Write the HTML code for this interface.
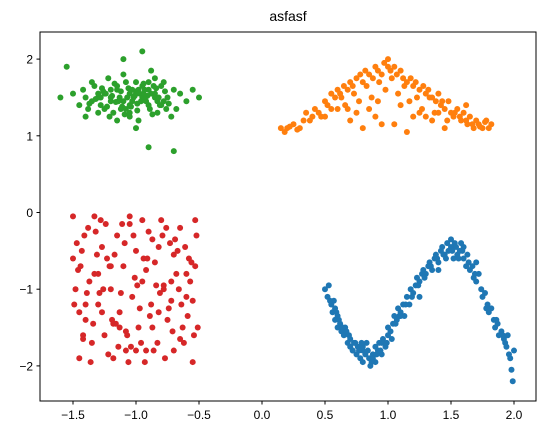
<!DOCTYPE html>
<html><head><meta charset="utf-8"><style>
body{margin:0;background:#fff}
svg{display:block;font-family:"Liberation Sans","DejaVu Sans",sans-serif}
</style></head><body>
<svg id="chart" width="546" height="435" viewBox="0 0 546 435" xmlns="http://www.w3.org/2000/svg">
<text x="288" y="21" font-size="14" text-anchor="middle" fill="#000">asfasf</text>
<g id="marks"></g>
<rect x="40" y="32" width="496" height="369" fill="none" stroke="#000" stroke-width="1"/>
<g id="axes"></g>
</svg>
<script>
const xTicks=[-1.5,-1.0,-0.5,0.0,0.5,1.0,1.5,2.0];
const xTickLabels=["−1.5","−1.0","−0.5","0.0","0.5","1.0","1.5","2.0"];
const yTicks=[-2,-1,0,1,2];
const yTickLabels=["−2","−1","0","1","2"];
const seriesNames=["moon-lower","moon-upper","blob","uniform"];
const seriesColors=["#1f77b4","#ff7f0e","#2ca02c","#d62728"];
const blueX=[0.5,0.52,0.53,0.55,0.56,0.57,0.58,0.6,0.6,0.62,0.63,0.65,0.66,0.68,0.7,0.7,0.72,0.74,0.75,0.76,0.78,0.8,0.8,0.82,0.83,0.85,0.86,0.88,0.9,0.9,0.92,0.93,0.95,0.96,0.98,1.0,1.0,1.02,1.04,1.05,1.07,1.08,1.1,1.12,1.13,1.15,1.17,1.18,1.2,1.22,1.23,1.25,1.27,1.28,1.3,1.32,1.33,1.35,1.37,1.38,1.4,1.42,1.43,1.45,1.47,1.48,1.5,1.52,1.53,1.55,1.57,1.58,1.6,1.62,1.63,1.65,1.67,1.68,1.7,1.72,1.74,1.75,1.77,1.78,1.8,1.82,1.84,1.85,1.87,1.88,1.9,1.92,1.93,1.95,1.96,1.97,1.98,2.0,1.99,1.94,0.58,0.64,0.72,0.8,0.88,0.95,1.03,1.1,1.25,1.4,1.5,1.6,1.7,
0.54,0.59,0.61,0.67,0.69,0.73,0.77,0.79,0.84,0.87,0.91,0.94,0.97,0.99,1.06,1.09,1.14,1.19,1.24,1.29,1.34,1.39,1.44,1.46,1.51,1.54,1.56,1.59,1.64,1.69,1.79,1.86,1.91];
const blueY=[-1.0,-1.1,-0.95,-1.2,-1.3,-1.15,-1.4,-1.35,-1.5,-1.45,-1.55,-1.6,-1.5,-1.7,-1.65,-1.75,-1.8,-1.7,-1.85,-1.75,-1.9,-1.8,-1.95,-1.85,-1.7,-1.9,-2.0,-1.85,-1.75,-1.95,-1.8,-1.7,-1.85,-1.65,-1.75,-1.6,-1.5,-1.55,-1.45,-1.35,-1.4,-1.25,-1.3,-1.2,-1.35,-1.1,-1.2,-1.0,-1.05,-0.95,-0.85,-0.9,-0.8,-0.75,-0.8,-0.7,-0.65,-0.75,-0.6,-0.55,-0.65,-0.5,-0.45,-0.55,-0.4,-0.5,-0.45,-0.6,-0.4,-0.55,-0.5,-0.4,-0.6,-0.7,-0.55,-0.75,-0.7,-0.85,-0.9,-0.8,-1.0,-1.1,-1.05,-1.25,-1.3,-1.25,-1.4,-1.5,-1.45,-1.6,-1.55,-1.65,-1.7,-1.6,-1.85,-1.9,-2.05,-1.8,-2.2,-1.75,-1.25,-1.5,-1.8,-1.75,-1.9,-1.7,-1.65,-1.35,-1.1,-0.75,-0.35,-0.45,-0.65,
-1.15,-1.3,-1.4,-1.55,-1.6,-1.7,-1.8,-1.7,-1.8,-1.95,-1.85,-1.8,-1.7,-1.7,-1.45,-1.35,-1.2,-1.1,-0.95,-0.85,-0.7,-0.6,-0.55,-0.6,-0.5,-0.45,-0.6,-0.5,-0.65,-0.8,-1.2,-1.4,-1.6];
const orangeX=[0.15,0.18,0.2,0.25,0.3,0.33,0.35,0.4,0.42,0.45,0.5,0.52,0.55,0.58,0.6,0.62,0.65,0.68,0.7,0.72,0.75,0.78,0.8,0.82,0.85,0.88,0.9,0.92,0.95,0.97,1.0,1.0,1.02,1.05,1.07,1.1,1.12,1.15,1.18,1.2,1.22,1.25,1.28,1.3,1.32,1.35,1.38,1.4,1.42,1.45,1.48,1.5,1.52,1.55,1.58,1.6,1.63,1.65,1.68,1.7,1.72,1.75,1.78,1.8,1.82,0.7,0.8,0.9,1.05,1.15,1.25,1.35,1.45,0.6,0.75,0.95,1.1,1.3,0.5,0.85,
0.22,0.28,0.38,0.47,0.55,0.63,0.66,0.73,0.77,0.83,0.87,0.93,0.98,1.03,1.08,1.13,1.17,1.23,1.27,1.33,1.37,1.43,1.47,1.53,1.57,1.62,1.67,1.73,1.77,0.68,0.92,1.2,1.4,1.62];
const orangeY=[1.1,1.05,1.1,1.15,1.1,1.2,1.3,1.25,1.35,1.3,1.45,1.4,1.55,1.5,1.6,1.55,1.65,1.6,1.7,1.65,1.75,1.8,1.7,1.85,1.8,1.75,1.9,1.85,1.8,1.95,1.9,2.0,1.85,1.9,1.8,1.85,1.75,1.7,1.75,1.65,1.7,1.6,1.65,1.55,1.6,1.5,1.45,1.55,1.4,1.35,1.45,1.3,1.25,1.35,1.2,1.3,1.15,1.25,1.1,1.2,1.15,1.1,1.2,1.1,1.15,1.2,1.1,1.25,1.15,1.05,1.3,1.2,1.1,1.35,1.3,1.15,1.4,1.25,1.25,1.35,
1.12,1.08,1.2,1.25,1.35,1.5,1.4,1.55,1.45,1.65,1.5,1.7,1.6,1.75,1.55,1.65,1.45,1.5,1.35,1.5,1.3,1.45,1.2,1.3,1.25,1.2,1.15,1.12,1.18,1.35,1.45,1.25,1.3,1.4];
const greenX=[-1.6,-1.55,-1.5,-1.45,-1.42,-1.4,-1.38,-1.35,-1.33,-1.3,-1.28,-1.25,-1.22,-1.2,-1.18,-1.15,-1.13,-1.1,-1.08,-1.05,-1.03,-1.0,-0.98,-0.95,-0.93,-0.9,-0.88,-0.85,-0.83,-0.8,-0.78,-0.75,-0.72,-0.7,-0.68,-0.65,-0.6,-0.55,-0.5,-1.3,-1.2,-1.1,-1.0,-0.9,-0.8,-1.25,-1.15,-1.05,-0.95,-0.85,-1.35,-1.0,-0.9,-1.1,-0.95,-0.7,-1.2,-1.05,-0.85,-1.4,-1.15,-0.98,-0.88,-1.28,-1.02,-0.92,-0.78,-1.12,-0.97,-0.83,
-1.37,-1.32,-1.27,-1.23,-1.19,-1.16,-1.12,-1.09,-1.06,-1.04,-1.01,-0.99,-0.96,-0.94,-0.91,-0.87,-0.84,-0.81,-0.77,-0.74,-1.3,-1.24,-1.17,-1.11,-1.07,-1.03,-0.99,-0.94,-0.89,-0.82,-1.21,-1.14,-1.08,-1.0,-0.93,-0.86,-1.26,-1.05,-0.9,-0.76];
const greenY=[1.5,1.9,1.55,1.4,1.6,1.5,1.35,1.45,1.65,1.5,1.4,1.55,1.75,1.45,1.3,1.6,1.5,1.8,1.35,1.55,1.45,1.7,1.2,1.5,1.6,1.4,1.85,1.55,1.3,1.65,1.45,1.5,1.25,1.6,1.35,1.55,1.45,1.6,1.5,1.55,1.6,1.45,1.55,1.7,1.4,1.35,1.2,1.3,1.65,1.75,1.7,1.1,0.85,2.0,2.1,0.8,1.5,1.4,1.5,1.25,1.65,1.6,1.55,1.5,1.5,1.45,1.7,1.35,1.55,1.45,
1.42,1.48,1.62,1.38,1.52,1.44,1.58,1.28,1.62,1.38,1.52,1.33,1.45,1.68,1.52,1.28,1.62,1.4,1.58,1.42,1.3,1.55,1.68,1.38,1.5,1.6,1.42,1.55,1.35,1.5,1.25,1.45,1.7,1.58,1.48,1.65,1.58,1.25,1.6,1.35];
const redX=[-1.5,-1.48,-1.45,-1.43,-1.4,-1.38,-1.35,-1.33,-1.3,-1.28,-1.25,-1.23,-1.2,-1.18,-1.15,-1.13,-1.1,-1.08,-1.05,-1.03,-1.0,-0.98,-0.95,-0.93,-0.9,-0.88,-0.85,-0.83,-0.8,-0.78,-0.75,-0.73,-0.7,-0.68,-0.65,-0.63,-0.6,-0.58,-0.55,-0.52,-1.47,-1.42,-1.37,-1.32,-1.27,-1.22,-1.17,-1.12,-1.07,-1.02,-0.97,-0.92,-0.87,-0.82,-0.77,-0.72,-0.67,-0.62,-0.57,-0.53,-1.49,-1.36,-1.24,-1.14,-1.01,-0.89,-0.76,-0.64,-0.54,-1.44,-1.31,-1.19,-1.06,-0.94,-0.81,-0.69,-0.59,-1.4,-1.26,-1.11,-0.96,-0.84,-0.71,-0.56,
-1.46,-1.41,-1.34,-1.29,-1.21,-1.16,-1.09,-1.04,-0.99,-0.91,-0.86,-0.79,-0.74,-0.66,-0.61,-0.51,-1.5,-1.39,-1.27,-1.13,-1.0,-0.87,-0.72,-0.6,-1.45,-1.33,-1.2,-1.08,-0.95,-0.82,-0.7,-0.55,-1.42,-1.3,-1.18,-1.05,-0.92,-0.78,-0.65,-0.53];
const redY=[-0.05,-1.0,-1.9,-0.5,-1.4,-0.2,-1.7,-0.8,-1.2,-0.1,-1.6,-0.6,-1.0,-1.9,-0.3,-1.3,-0.7,-1.8,-0.05,-1.1,-0.5,-1.5,-0.9,-1.95,-0.25,-1.2,-0.65,-1.7,-0.1,-1.0,-1.4,-0.4,-1.8,-0.8,-0.2,-1.5,-1.1,-0.6,-1.95,-0.3,-0.4,-1.6,-0.9,-0.25,-1.3,-1.85,-0.55,-1.05,-1.6,-0.3,-1.25,-0.75,-1.5,-0.45,-1.9,-1.15,-0.5,-1.7,-0.9,-0.1,-1.2,-1.95,-0.15,-1.75,-0.85,-1.35,-0.2,-1.2,-1.6,-0.7,-0.55,-1.4,-1.95,-0.6,-1.05,-0.35,-1.35,-1.2,-1.0,-0.15,-1.7,-0.95,-1.55,-0.65,
-0.75,-0.3,-1.45,-1.05,-0.7,-1.45,-0.4,-1.75,-0.95,-0.6,-1.8,-0.3,-1.25,-1.0,-0.45,-1.5,-0.6,-1.05,-0.45,-1.5,-1.8,-0.35,-0.9,-0.8,-1.3,-0.05,-0.7,-1.55,-0.1,-1.3,-0.55,-1.15,-1.65,-0.8,-1.45,-0.15,-1.8,-0.95,-1.65,-0.7];
const X=v=>262+v*126;
const Y=v=>212.5-v*76.7;
const NS="http://www.w3.org/2000/svg";
const marks=document.getElementById('marks');
const allX=[blueX,orangeX,greenX,redX], allY=[blueY,orangeY,greenY,redY];
allX.forEach((xs,s)=>{
  const g=document.createElementNS(NS,'g');
  
  
  xs.forEach((xv,i)=>{
    const c=document.createElementNS(NS,'circle');
    
    
    c.setAttribute('cx',X(xv));c.setAttribute('cy',Y(allY[s][i]));
    c.setAttribute('r',3);c.setAttribute('fill',seriesColors[s]);
    g.appendChild(c);
  });
  marks.appendChild(g);
});
const axes=document.getElementById('axes');
xTicks.forEach((t,i)=>{
  const l=document.createElementNS(NS,'line');
  
  
  l.setAttribute('x1',X(t));l.setAttribute('x2',X(t));l.setAttribute('y1',401);l.setAttribute('y2',404.5);l.setAttribute('stroke','#000');
  axes.appendChild(l);
  const tx=document.createElementNS(NS,'text');
  
  
  tx.setAttribute('x',X(t));tx.setAttribute('y',419);tx.setAttribute('font-size','12');tx.setAttribute('text-anchor','middle');
  tx.textContent=xTickLabels[i];axes.appendChild(tx);
});
yTicks.forEach((t,i)=>{
  const l=document.createElementNS(NS,'line');
  
  
  l.setAttribute('x1',36.5);l.setAttribute('x2',40);l.setAttribute('y1',Y(t));l.setAttribute('y2',Y(t));l.setAttribute('stroke','#000');
  axes.appendChild(l);
  const tx=document.createElementNS(NS,'text');
  
  
  tx.setAttribute('x',33);tx.setAttribute('y',Y(t)+4.5);tx.setAttribute('font-size','12');tx.setAttribute('text-anchor','end');
  tx.textContent=yTickLabels[i];axes.appendChild(tx);
});
</script>
</body></html>
